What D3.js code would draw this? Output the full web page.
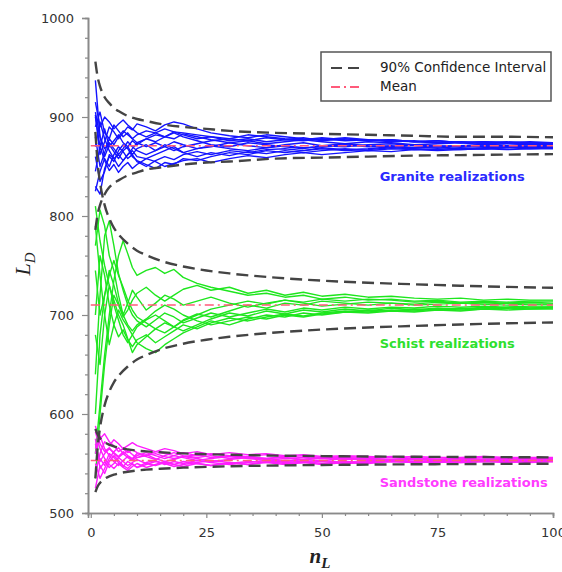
<!DOCTYPE html>
<html><head><meta charset="utf-8">
<script src="https://cdn.jsdelivr.net/npm/d3@7/dist/d3.min.js"></script>
<style>
html,body{margin:0;padding:0;background:#fff;}
svg{display:block;}
</style></head>
<body>
<svg id="chart" width="562" height="572"></svg>
<script>
// ---------- data ----------
const nSteps = [1,2,3,4,5,6,7,8,9,10,12,14,16,18,20,23,26,30,34,38,42,46,50,55,60,65,70,75,80,85,90,95,100];

const graniteRuns = [
 [937,880,860,872,865,858,866,870,862,868,872,866,870,875,872,868,870,874,871,869,872,874,871,870,872,873,871,870,871,872,871,870,871],
 [902,862,875,890,885,878,884,890,887,893,890,886,892,895,893,888,884,881,879,882,880,878,877,879,877,876,875,876,874,875,874,873,873],
 [825,845,858,850,862,870,865,858,862,855,850,856,860,857,862,865,862,866,864,867,868,866,869,867,868,870,869,870,868,869,870,869,870],
 [890,905,884,878,892,886,880,884,878,882,886,884,880,878,883,880,877,874,876,873,875,877,875,873,875,874,872,873,874,872,873,872,872],
 [830,822,848,860,855,866,872,868,860,856,852,848,854,852,858,856,860,864,862,866,864,866,868,866,867,869,868,867,869,868,869,870,869],
 [900,870,888,870,876,882,874,870,876,872,878,882,880,884,880,876,872,870,874,872,870,868,871,873,871,870,872,871,870,872,871,872,871],
 [870,895,878,866,858,862,856,862,866,860,858,862,866,870,864,860,864,861,865,863,866,864,866,868,866,868,867,868,867,868,869,868,869],
 [915,890,900,895,888,893,897,892,888,884,880,884,888,885,882,878,880,876,878,875,877,879,876,878,876,877,875,876,874,875,874,875,874],
 [845,870,856,846,852,844,850,854,848,852,858,855,850,853,856,858,854,858,861,859,862,864,862,864,866,865,867,866,867,868,867,868,868],
 [880,850,864,878,872,880,886,882,878,874,870,874,870,866,870,873,876,878,876,879,877,876,878,876,877,875,876,874,875,874,875,874,874],
 [905,880,868,874,868,862,868,875,870,866,862,866,872,868,864,868,871,868,866,869,871,869,870,872,870,871,869,870,871,870,871,870,870],
 [860,835,845,862,858,850,856,862,868,874,878,875,880,885,884,882,880,878,882,880,878,877,879,877,876,877,875,874,875,873,874,873,873]
];

const schistRuns = [
 [770,806,790,760,745,720,700,712,725,718,705,712,720,716,710,714,718,712,708,712,715,712,709,711,713,712,710,711,712,711,710,711,711],
 [640,720,780,795,770,742,725,710,700,694,688,695,702,698,692,697,702,698,702,706,703,707,705,708,706,708,707,709,708,709,708,709,709],
 [560,610,660,700,735,760,775,762,748,740,745,748,742,746,738,732,728,724,720,722,718,720,716,718,715,716,714,715,713,714,713,714,714],
 [700,760,740,710,690,678,685,675,668,675,680,672,678,684,690,686,692,697,694,698,701,699,702,704,703,705,704,706,705,706,707,706,707],
 [790,740,700,670,690,705,695,688,680,672,666,662,670,676,682,688,694,690,696,700,698,702,700,703,705,704,706,705,707,706,708,707,708],
 [535,600,650,690,720,710,698,705,715,722,728,720,714,720,726,730,725,728,722,725,720,723,719,721,718,719,717,716,717,715,716,715,715],
 [745,700,720,745,730,712,700,690,684,690,696,704,710,706,700,694,690,694,698,696,700,698,701,703,702,704,703,705,704,706,705,706,706],
 [810,775,750,730,710,695,680,672,680,688,695,700,694,688,694,700,706,710,714,711,715,713,716,714,716,715,713,714,712,713,712,713,712],
 [600,680,720,740,755,740,728,715,705,698,692,686,682,688,695,701,698,704,710,707,712,710,714,712,710,712,711,713,712,711,712,711,711],
 [680,650,700,730,715,700,690,676,662,670,678,686,692,688,684,690,696,702,699,704,701,705,703,706,704,707,705,707,706,708,707,708,708]
];

const sandstoneRuns = [
 [588,570,562,566,560,556,560,563,559,556,558,560,557,555,557,559,556,558,556,555,557,556,555,556,555,554,555,554,555,554,554,555,554],
 [540,560,572,568,574,570,565,568,571,568,565,562,565,563,560,562,559,561,559,560,558,559,557,558,557,556,557,556,556,557,556,556,556],
 [575,545,552,546,550,556,552,548,551,554,550,548,551,549,552,550,548,550,552,551,549,551,552,550,551,552,551,552,551,552,552,551,552],
 [525,548,540,552,558,553,548,545,550,546,549,552,550,547,549,551,553,551,549,551,553,552,550,552,551,553,552,551,552,553,552,553,552],
 [560,578,565,558,552,548,553,557,554,558,561,558,555,558,556,553,555,557,555,553,555,554,556,555,553,554,555,554,553,554,553,554,554],
 [550,535,545,555,562,566,560,556,553,556,559,555,552,554,557,555,552,554,556,554,552,554,553,555,554,553,554,553,554,553,554,553,553],
 [582,565,555,549,545,550,546,543,547,550,546,549,552,549,547,550,548,551,549,552,550,551,549,551,550,552,551,552,551,552,551,552,552],
 [565,575,580,572,568,562,565,561,564,561,558,562,560,558,561,558,560,558,557,559,557,558,556,557,556,557,555,556,555,556,555,555,555],
 [545,555,548,560,556,551,547,552,549,546,551,553,549,552,550,553,551,549,551,553,551,552,553,551,552,553,552,553,552,553,552,553,553],
 [570,552,560,565,561,557,562,558,555,560,557,554,558,561,558,556,558,555,557,555,556,554,556,554,555,554,555,554,555,554,555,554,555]
];

const ciSteps = [1,1.5,2,3,4,5,6,8,10,12,15,20,25,30,40,50,60,70,80,90,100];
const graniteUpper = [956,940,931,920,914,909,906,901,898,896,893,890,888,886,884,883,882,881,880,880,879.5];
const graniteLower = [786,802,811,822,829,833,836,841,844,847,849,852,854,855,858,859,860,861,861.5,862,862.5];
const schistUpper  = [885,853,834,811,797.5,788,781.5,772,765,760.5,755,749,745,742,737.7,734.7,732.6,731,729.6,728.4,727.5];
const schistLower  = [535,567,586,609,622.5,632,638.5,648,655,659.5,665,671,675,678,682.3,685.3,687.4,689,690.4,691.6,692.5];
const sandUpper    = [585,579,575.6,571.5,569,567.3,566,564.3,563,562.2,561.3,560.2,559.4,558.8,558,557.5,557.1,556.8,556.6,556.4,556.2];
const sandLower    = [521,527,530.4,534.5,537,538.7,540,541.7,543,543.8,544.7,545.8,546.6,547.2,548,548.5,548.9,549.2,549.4,549.6,549.8];

const meanValues = [871, 710, 553];
const meanExtent = [0, 100];

const yTicks = [500,600,700,800,900,1000];
const xTicks = [0,25,50,75,100];
const legendLabels = ["90% Confidence Interval","Mean"];
const groupLabels = ["Granite realizations","Schist realizations","Sandstone realizations"];

// ---------- drawing ----------
const svg = d3.select("#chart");
const x = d3.scaleLinear().domain([-0.6,100]).range([88,553]);
const y = d3.scaleLinear().domain([500,1000]).range([513,18]);

const lineGen = d3.line().x((d,i)=>x(nSteps[i])).y(d=>y(d));
const ciGen = d3.line().x((d,i)=>x(ciSteps[i])).y(d=>y(d)).curve(d3.curveMonotoneX);

const plot = svg.append("g");
const groups = [
  {runs: graniteRuns, color:"#1414ff"},
  {runs: schistRuns, color:"#1ee61e"},
  {runs: sandstoneRuns, color:"#ff1eff"}
];
groups.forEach(g=>{
  plot.append("g").selectAll("path").data(g.runs).join("path")
    .attr("d", lineGen).attr("fill","none").attr("stroke", g.color)
    .attr("stroke-width",1.4).attr("stroke-linejoin","round");
});

// mean lines
plot.append("g").selectAll("line").data(meanValues).join("line")
  .attr("x1", x(meanExtent[0])).attr("x2", x(meanExtent[1]))
  .attr("y1", d=>y(d)).attr("y2", d=>y(d))
  .attr("stroke","#ff5a7a").attr("stroke-width",1.5)
  .attr("stroke-dasharray","9,4,2,4");

// CI lines
[graniteUpper,graniteLower,schistUpper,schistLower,sandUpper,sandLower].forEach(arr=>{
  plot.append("path").attr("d", ciGen(arr)).attr("fill","none")
    .attr("stroke","#444").attr("stroke-width",2.4)
    .attr("stroke-dasharray","12,6");
});

// axes
const axisColor = "#8a8a8a";
const yAxis = svg.append("g").attr("transform","translate(88,0)")
  .call(d3.axisLeft(y).tickValues(yTicks).tickSize(6).tickPadding(8).tickFormat(d3.format("d")));
const yMinor = svg.append("g").attr("transform","translate(88,0)")
  .call(d3.axisLeft(y).tickValues(d3.range(520,1000,20).filter(v=>v%100!==0)).tickSize(3).tickFormat(""));
const xAxis = svg.append("g").attr("transform","translate(0,513)")
  .call(d3.axisBottom(x).tickValues(xTicks).tickSize(5).tickPadding(10));
const xMinor = svg.append("g").attr("transform","translate(0,513)")
  .call(d3.axisBottom(x).tickValues(d3.range(5,100,5).filter(v=>v%25!==0)).tickSize(3).tickFormat(""));
[yAxis,yMinor,xAxis,xMinor].forEach(a=>{
  a.select(".domain").attr("stroke",axisColor).attr("stroke-width",1.6);
  a.selectAll(".tick line").attr("stroke",axisColor).attr("stroke-width",1.2);
  a.selectAll("text").attr("fill","#333").attr("font-family","'DejaVu Sans', sans-serif").attr("font-size",13);
});

// axis titles
svg.append("text").attr("transform","translate(30,264) rotate(-90)")
  .attr("text-anchor","middle").attr("font-family","'Liberation Serif', serif")
  .attr("font-style","italic").attr("font-size",22).attr("fill","#222")
  .call(t=>{t.append("tspan").text("L"); t.append("tspan").attr("dy",5).attr("font-size",15).text("D");});
svg.append("text").attr("x",320).attr("y",563)
  .attr("text-anchor","middle").attr("font-family","'Liberation Serif', serif")
  .attr("font-style","italic").attr("font-weight","bold").attr("font-size",21).attr("fill","#222")
  .call(t=>{t.append("tspan").text("n"); t.append("tspan").attr("dy",5).attr("font-size",15).text("L");});

// legend
const lg = svg.append("g");
lg.append("rect").attr("x",321).attr("y",52).attr("width",230).attr("height",49)
  .attr("fill","#fff").attr("stroke","#555").attr("stroke-width",1.5);
lg.append("line").attr("x1",331).attr("x2",362).attr("y1",68).attr("y2",68)
  .attr("stroke","#444").attr("stroke-width",2).attr("stroke-dasharray","11,6");
lg.append("line").attr("x1",331).attr("x2",362).attr("y1",87).attr("y2",87)
  .attr("stroke","#ff5a7a").attr("stroke-width",2).attr("stroke-dasharray","9,4,2,4");
lg.selectAll("text").data(legendLabels).join("text")
  .attr("x",380).attr("y",(d,i)=>72+i*19).text(d=>d)
  .attr("font-family","'DejaVu Sans', sans-serif").attr("font-size",13.5).attr("fill","#222");

// group labels (left edge and baseline positioned in data units)
const labelColors = ["#2a2aff","#2ee02e","#ff3cff"];
const labelX = 62.5;
const labelY = [835.5, 666.5, 526.5];
svg.selectAll("text.glabel").data(groupLabels).join("text").attr("class","glabel")
  .attr("x",x(labelX)).attr("y",(d,i)=>y(labelY[i]))
  .attr("text-anchor","start").text(d=>d)
  .attr("font-family","'DejaVu Sans', sans-serif").attr("font-weight","bold")
  .attr("font-size",13).attr("fill",(d,i)=>labelColors[i]);
</script>
</body></html>
